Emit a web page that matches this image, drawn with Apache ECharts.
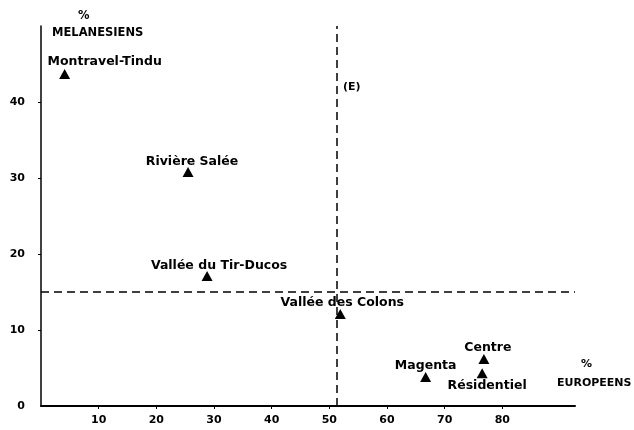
<!DOCTYPE html>
<html><head><meta charset="utf-8">
<script src="https://cdn.jsdelivr.net/npm/echarts@6/dist/echarts.min.js"></script>
<style>html,body{margin:0;padding:0;background:#fff}#c{width:634px;height:430px}</style>
</head><body><div id="c"></div>
<script>
// ---- data ----
const names = ['Montravel-Tindu', 'Rivière Salée', 'Vallée du Tir-Ducos', 'Vallée des Colons', 'Centre', 'Magenta', 'Résidentiel'];
const pctEuropeens = [4.1, 25.5, 28.8, 51.9, 76.8, 66.7, 76.5];
const pctMelanesiens = [43.7, 30.8, 17.1, 12.1, 6.2, 3.8, 4.3];
const xTickLabels = [10, 20, 30, 40, 50, 60, 70, 80];
const yTickLabels = [0, 10, 20, 30, 40];
const meanEuropeens = 51.3;
const meanMelanesiens = 15;
const noteText = ['(E)'];
const noteX = [53.9];
const noteY = [41.9];

// ---- styling (label placement) ----
const labelShift = {
  'Montravel-Tindu': [40, -12],
  'Rivière Salée': [4, -10],
  'Vallée du Tir-Ducos': [12, -10],
  'Vallée des Colons': [2, -11],
  'Centre': [4, -11],
  'Magenta': [0, -11],
  'Résidentiel': [5, 12]
};
const FONT = 'DejaVu Sans';

const points = names.map((n, i) => ({
  name: n,
  value: [pctEuropeens[i], pctMelanesiens[i]],
  label: { offset: labelShift[n] }
}));

const chart = echarts.init(document.getElementById('c'), null, { renderer: 'canvas' });
chart.setOption({
  animation: false,
  backgroundColor: '#fff',
  grid: { left: 41, right: 59, top: 26, bottom: 24, containLabel: false, outerBoundsMode: 'none' },
  xAxis: {
    type: 'value', min: 0, max: 92.6, interval: 10,
    splitLine: { show: false },
    axisLine: { lineStyle: { color: '#000', width: 2 } },
    axisTick: { show: true, length: 3, customValues: xTickLabels, lineStyle: { color: '#000', width: 1 } },
    axisLabel: {
      margin: 9, color: '#000', fontFamily: FONT, fontWeight: 'bold', fontSize: 11,
      customValues: xTickLabels
    },
    name: '{p|%}\nEUROPEENS',
    nameLocation: 'end', nameGap: -18,
    nameTextStyle: {
      align: 'left', verticalAlign: 'bottom', color: '#000', fontFamily: FONT,
      fontWeight: 'bold', fontSize: 11, lineHeight: 19, padding: [0, 0, 13, 0],
      rich: { p: { padding: [0, 0, 0, 24], fontFamily: FONT, fontWeight: 'bold', fontSize: 11, color: '#000' } }
    }
  },
  yAxis: {
    type: 'value', min: 0, max: 50, interval: 10,
    splitLine: { show: false },
    axisLine: { lineStyle: { color: '#000', width: 1.5 } },
    axisTick: { show: true, length: 3, customValues: yTickLabels.filter(v => v > 0), lineStyle: { color: '#000', width: 1 } },
    axisLabel: {
      margin: 16, color: '#000', fontFamily: FONT, fontWeight: 'bold', fontSize: 11,
      customValues: yTickLabels
    },
    name: '{p|%}\nMELANESIENS',
    nameLocation: 'end', nameGap: -16,
    nameTextStyle: {
      align: 'left', verticalAlign: 'bottom', color: '#000', fontFamily: FONT,
      fontWeight: 'bold', fontSize: 11.5, lineHeight: 17, padding: [0, 0, 0, 11],
      rich: { p: { padding: [0, 0, 0, 26], fontFamily: FONT, fontWeight: 'bold', fontSize: 11.5, color: '#000' } }
    }
  },
  series: [
    {
      type: 'scatter',
      symbol: 'triangle',
      symbolSize: [11, 10],
      itemStyle: { color: '#000', opacity: 1 },
      label: {
        show: true, position: 'inside', formatter: '{b}',
        color: '#000', fontFamily: FONT, fontWeight: 'bold', fontSize: 12.5
      },
      emphasis: { disabled: true },
      data: points,
      markLine: {
        silent: true, symbol: 'none',
        lineStyle: { color: '#000', width: 1.5, type: [8, 5], opacity: 1 },
        label: { show: false },
        data: [
          [{ coord: [meanEuropeens, 0] }, { coord: [meanEuropeens, 50] }],
          [{ coord: [0, meanMelanesiens] }, { coord: [92.6, meanMelanesiens] }]
        ]
      }
    },
    {
      type: 'scatter',
      symbol: 'circle',
      symbolSize: 2,
      itemStyle: { color: 'rgba(0,0,0,0)', opacity: 1 },
      label: {
        show: true, position: 'inside', formatter: '{b}',
        color: '#000', fontFamily: FONT, fontWeight: 'bold', fontSize: 11
      },
      emphasis: { disabled: true },
      data: noteText.map((t, i) => ({ name: t, value: [noteX[i], noteY[i]] }))
    }
  ]
});
</script>
</body></html>
